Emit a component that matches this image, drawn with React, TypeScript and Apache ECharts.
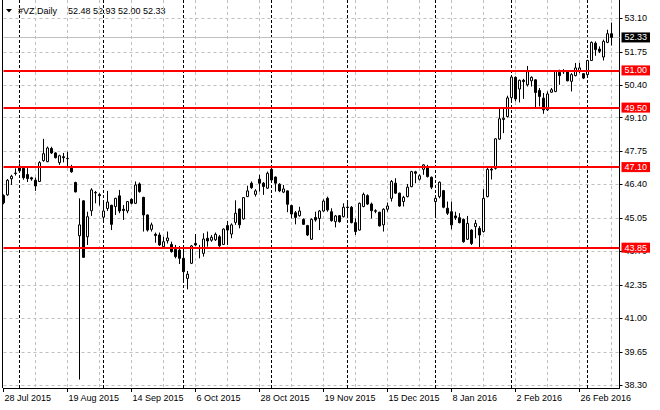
import { useEffect, useRef } from "react";
import * as echarts from "echarts";

const SYMBOL = "#VZ,Daily";

// a date label sits under every 16th bar
const dateLabels = [
  "28 Jul 2015",
  "19 Aug 2015",
  "14 Sep 2015",
  "6 Oct 2015",
  "28 Oct 2015",
  "19 Nov 2015",
  "15 Dec 2015",
  "8 Jan 2016",
  "2 Feb 2016",
  "26 Feb 2016",
];
const LABEL_STEP = 16;
const GRID_STEP = 8;
const EMPTY_BARS_RIGHT = 2;

// daily bars: [open, high, low, close]
const bars: number[][] = [
  [45.95, 46.0, 45.6, 45.66],
  [45.98, 46.62, 45.94, 46.57],
  [46.63, 46.79, 46.38, 46.73],
  [46.86, 47.05, 46.76, 46.84],
  [47.13, 47.25, 46.91, 46.95],
  [47.05, 47.13, 46.59, 46.67],
  [46.8, 47.06, 46.5, 46.64],
  [46.67, 46.71, 46.55, 46.62],
  [46.57, 46.68, 46.14, 46.34],
  [46.52, 47.34, 46.5, 47.28],
  [47.36, 48.24, 47.32, 47.64],
  [47.32, 47.93, 47.3, 47.87],
  [47.85, 47.92, 47.63, 47.67],
  [47.67, 47.7, 47.45, 47.48],
  [47.28, 47.6, 47.19, 47.56],
  [47.52, 47.67, 47.29, 47.48],
  [47.45, 47.72, 47.13, 47.44],
  [47.06, 47.19, 46.87, 46.91],
  [46.48, 46.51, 46.08, 46.1],
  [44.33, 45.84, 38.53, 44.77],
  [45.74, 45.76, 43.44, 43.46],
  [44.29, 45.3, 43.96, 45.1],
  [45.34, 46.25, 45.13, 46.18],
  [46.08, 46.14, 45.64, 46.06],
  [45.99, 46.05, 45.55, 45.95],
  [45.08, 45.71, 44.97, 45.33],
  [45.43, 46.14, 45.33, 45.69],
  [45.56, 45.58, 44.56, 44.79],
  [45.51, 45.86, 45.17, 45.84],
  [45.94, 46.18, 45.24, 45.33],
  [45.4, 45.57, 44.97, 45.35],
  [45.33, 45.73, 45.24, 45.71],
  [45.8, 45.84, 45.6, 45.64],
  [45.64, 46.52, 45.61, 46.38],
  [46.42, 46.48, 46.07, 46.11],
  [45.88, 45.9, 44.5, 45.17],
  [45.17, 45.19, 44.5, 44.56],
  [44.59, 44.86, 44.5, 44.77],
  [44.39, 44.46, 44.05, 44.34],
  [44.36, 44.46, 43.92, 43.96],
  [43.89, 44.29, 43.82, 44.09],
  [44.13, 44.5, 44.02, 44.24],
  [43.98, 44.09, 43.65, 43.69],
  [43.78, 43.96, 43.42, 43.49],
  [43.75, 43.92, 43.19, 43.42],
  [43.42, 43.82, 42.54, 42.88],
  [42.61, 42.91, 42.17, 42.78],
  [43.22, 43.96, 43.19, 43.92],
  [44.02, 44.4, 43.92, 43.96],
  [43.81, 43.96, 43.42, 43.83],
  [43.62, 44.43, 43.49, 44.2],
  [44.23, 44.5, 43.89, 44.12],
  [44.15, 44.36, 44.09, 44.27],
  [44.17, 44.46, 44.12, 44.39],
  [44.29, 44.36, 43.88, 43.93],
  [43.98, 44.63, 43.96, 44.6],
  [44.74, 44.93, 43.96, 44.56],
  [44.4, 44.83, 44.23, 44.77],
  [44.87, 45.76, 44.77, 45.24],
  [45.41, 45.43, 44.63, 44.77],
  [45.01, 45.89, 44.98, 45.87],
  [45.91, 46.35, 45.89, 46.14],
  [46.45, 46.52, 46.22, 46.27],
  [46.0, 46.21, 45.91, 46.14],
  [46.61, 46.79, 46.11, 46.45],
  [46.45, 46.5, 45.98, 46.32],
  [46.25, 46.92, 46.22, 46.85],
  [47.01, 47.08, 46.56, 46.58],
  [46.7, 46.72, 46.11, 46.45],
  [46.41, 46.45, 46.09, 46.14],
  [46.09, 46.38, 46.05, 46.22],
  [46.14, 46.16, 45.28, 45.6],
  [45.55, 45.58, 45.03, 45.21],
  [45.26, 45.33, 44.79, 45.07],
  [45.14, 45.5, 45.1, 45.33],
  [44.99, 45.03, 44.77, 44.79],
  [44.74, 44.77, 44.32, 44.36],
  [44.19, 45.03, 44.16, 44.99],
  [45.07, 45.3, 44.9, 44.97],
  [45.03, 45.37, 44.56, 45.33],
  [45.33, 45.8, 45.3, 45.73],
  [45.84, 45.91, 45.3, 45.37],
  [45.3, 45.44, 44.9, 44.94],
  [44.9, 45.17, 44.67, 45.13],
  [45.14, 45.17, 44.86, 44.9],
  [45.1, 45.64, 45.07, 45.48],
  [45.49, 45.77, 45.17, 45.47],
  [45.48, 45.53, 44.83, 44.86],
  [44.86, 45.03, 44.36, 44.5],
  [44.56, 45.67, 44.54, 45.64],
  [45.51, 46.07, 45.48, 46.0],
  [45.95, 46.0, 45.57, 45.61],
  [45.61, 45.67, 45.03, 45.34],
  [45.34, 45.4, 45.24, 45.32],
  [45.28, 45.3, 44.7, 44.73],
  [44.77, 45.44, 44.5, 45.4],
  [45.4, 45.67, 45.3, 45.53],
  [45.84, 46.58, 45.71, 46.52],
  [46.45, 46.65, 46.02, 46.05],
  [46.05, 46.07, 45.5, 45.53],
  [45.71, 45.94, 45.51, 45.88],
  [45.91, 46.42, 45.88, 46.29],
  [46.31, 46.95, 46.29, 46.92],
  [46.91, 46.95, 46.45, 46.85],
  [46.61, 46.81, 46.56, 46.75],
  [47.01, 47.22, 46.79, 47.19],
  [47.12, 47.19, 46.68, 46.72],
  [46.69, 46.72, 46.21, 46.29],
  [45.71, 45.91, 45.17, 45.84],
  [45.91, 46.52, 45.84, 46.49],
  [46.15, 46.18, 45.44, 45.48],
  [45.44, 45.71, 45.17, 45.24],
  [45.3, 45.71, 44.59, 44.77],
  [45.13, 45.3, 44.97, 45.06],
  [45.06, 45.24, 44.83, 44.86],
  [44.99, 45.03, 44.05, 44.09],
  [44.19, 45.13, 44.16, 44.83],
  [44.56, 44.59, 43.96, 44.02],
  [44.7, 44.97, 44.23, 44.83],
  [44.63, 44.72, 43.82, 44.36],
  [44.5, 46.21, 44.46, 45.84],
  [45.91, 47.06, 45.88, 47.01],
  [47.02, 47.06, 46.6, 46.98],
  [47.05, 48.26, 47.0, 48.24],
  [48.23, 49.48, 48.2, 49.05],
  [49.02, 49.45, 48.47, 49.07],
  [49.14, 49.98, 49.1, 49.89],
  [49.9, 50.76, 49.7, 50.73],
  [50.72, 50.76, 49.75, 49.85],
  [50.25, 50.63, 49.71, 50.6],
  [50.6, 50.66, 49.85, 50.55],
  [50.42, 51.18, 50.35, 50.95],
  [50.58, 50.76, 50.35, 50.72],
  [50.62, 50.64, 49.5, 50.11],
  [50.19, 50.29, 49.55, 49.95],
  [49.88, 50.09, 49.25, 49.41],
  [49.41, 50.15, 49.36, 50.05],
  [50.12, 50.29, 50.1, 50.22],
  [50.15, 51.0, 50.12, 50.96],
  [50.92, 51.03, 50.42, 50.79],
  [50.94, 51.05, 50.86, 50.97],
  [50.96, 51.0, 50.56, 50.58],
  [50.56, 50.89, 50.15, 50.83],
  [50.79, 51.3, 50.76, 51.1],
  [50.96, 51.3, 50.89, 51.1],
  [50.87, 50.89, 50.65, 50.69],
  [50.83, 51.43, 50.8, 51.4],
  [51.4, 52.17, 51.38, 52.13],
  [52.1, 52.17, 51.59, 51.84],
  [51.86, 51.97, 51.7, 51.77],
  [51.54, 52.24, 51.4, 52.17],
  [52.13, 52.64, 52.1, 52.48],
  [52.48, 52.93, 52.0, 52.33],
];

// price scale labels on the right
const priceTicks = [
  38.3, 39.65, 41.0, 42.35, 43.7, 45.05, 46.4, 47.75, 49.1, 50.4, 51.75, 53.1,
];

// red horizontal levels
const levels = [51.0, 49.5, 47.1, 43.85];

// first bar of each month (period separators)
const monthStarts = [4, 25, 45, 67, 86, 108, 127, 146];

const FONT = "'Liberation Sans', Arial, sans-serif";
const GRID_GRAY = "#c0c0c0";

function App() {
  const chartRef = useRef<HTMLDivElement>(null);

  useEffect(() => {
    const chart = echarts.init(chartRef.current, null, { renderer: "svg" });

    const total = bars.length + EMPTY_BARS_RIGHT;
    const categories = Array.from({ length: total }, (_, i) => String(i));
    const candles = bars.map(([o, h, l, c]) => [o, c, l, h]);
    const last = bars[bars.length - 1];
    const lastClose = last[3];

    const tagLabel = (bg: string) => ({
      show: true,
      position: "end",
      distance: 2,
      formatter: (p: any) => Number(p.value).toFixed(2),
      backgroundColor: bg,
      color: "#ffffff",
      fontFamily: FONT,
      fontSize: 9,
      lineHeight: 9,
      padding: [1, 3, 0, 3],
    });

    const option = {
      animation: false,
      backgroundColor: "#ffffff",
      // 154 gaps of 4px, bar centres on pixel centres
      grid: { left: 3.5, right: 40.5, top: 0, bottom: 22 },
      xAxis: {
        type: "category",
        data: categories,
        boundaryGap: false,
        axisLine: { lineStyle: { color: "#000000", width: 1 } },
        axisTick: {
          show: true,
          length: 4,
          interval: (i: number) => i % LABEL_STEP === 0,
          lineStyle: { color: "#000000" },
        },
        axisLabel: {
          interval: (i: number) => i % LABEL_STEP === 0,
          formatter: (_v: string, i: number) => dateLabels[i / LABEL_STEP] ?? "",
          align: "left",
          margin: 5,
          padding: [0, 0, 0, 1],
          color: "#000000",
          fontFamily: FONT,
          fontSize: 9,
        },
        splitLine: {
          show: true,
          interval: (i: number) => i > 0 && i % GRID_STEP === 0,
          lineStyle: { color: GRID_GRAY, type: [3, 3], width: 1 },
        },
      },
      yAxis: {
        type: "value",
        position: "right",
        min: 38.19,
        max: 53.84,
        axisLine: { show: true, lineStyle: { color: "#000000", width: 1 } },
        axisTick: {
          show: true,
          length: 3,
          customValues: priceTicks,
          lineStyle: { color: "#000000" },
        },
        axisLabel: {
          customValues: priceTicks,
          formatter: (v: number) => v.toFixed(2),
          margin: 5,
          color: "#000000",
          fontFamily: FONT,
          fontSize: 9,
        },
        splitLine: {
          show: true,
          lineStyle: { color: GRID_GRAY, type: [3, 3], width: 1 },
        },
      },
      graphic: [
        {
          type: "line",
          shape: { x1: 2.5, y1: 0, x2: 2.5, y2: 388 },
          style: { stroke: "#000000", lineWidth: 1 },
        },
        {
          type: "polygon",
          shape: { points: [[6, 9], [12, 9], [9, 12.5]] },
          style: { fill: "#000000" },
        },
        {
          type: "text",
          x: 18,
          y: 11,
          style: {
            text: SYMBOL,
            fill: "#000000",
            font: `9px ${FONT}`,
            verticalAlign: "middle",
          },
        },
        {
          type: "text",
          x: 68,
          y: 11,
          style: {
            text: last.map((v) => v.toFixed(2)).join(" "),
            fill: "#000000",
            font: `9px ${FONT}`,
            verticalAlign: "middle",
          },
        },
      ],
      series: [
        {
          // month separators and the current price line
          type: "line",
          data: [],
          silent: true,
          markLine: {
            z: 1,
            silent: true,
            symbol: "none",
            animation: false,
            data: [
              ...monthStarts.map((i) => ({
                xAxis: i,
                label: { show: false },
                lineStyle: { color: "#000000", type: [3, 2], width: 1 },
              })),
              {
                yAxis: lastClose,
                label: tagLabel("#000000"),
                lineStyle: { color: GRID_GRAY, type: "solid", width: 1 },
              },
            ],
          },
        },
        {
          type: "candlestick",
          data: candles,
          barWidth: 3,
          z: 3,
          itemStyle: {
            color: "#ffffff",
            color0: "#000000",
            borderColor: "#000000",
            borderColor0: "#000000",
            borderWidth: 1,
          },
          markLine: {
            z: 5,
            silent: true,
            symbol: "none",
            animation: false,
            data: levels.map((v) => ({
              yAxis: v,
              label: tagLabel("#ff0000"),
              lineStyle: { color: "#ff0000", type: "solid", width: 2 },
            })),
          },
        },
      ],
    };

    chart.setOption(option as any);

    return () => {
      chart.dispose();
    };
  }, []);

  return (
    <div
      ref={chartRef}
      style={{ position: "absolute", left: 0, top: 0, width: 660, height: 410 }}
    />
  );
}

export default App;
